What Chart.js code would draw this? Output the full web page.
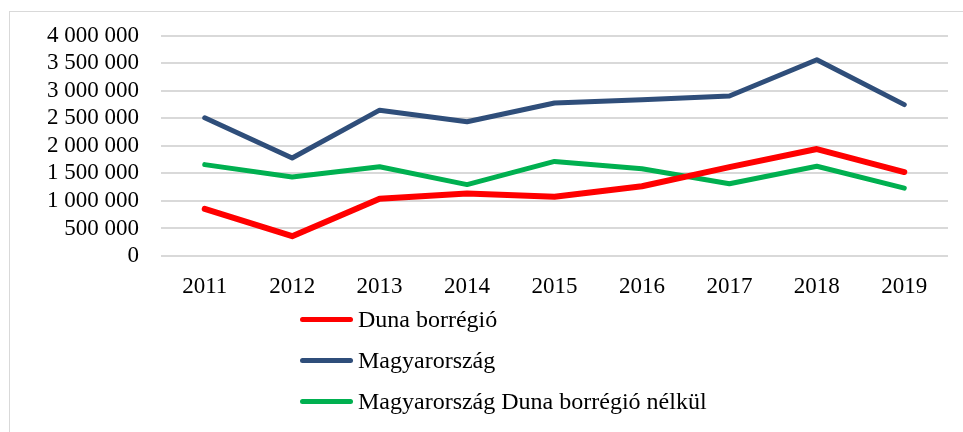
<!DOCTYPE html>
<html>
<head>
<meta charset="utf-8">
<script src="https://cdn.jsdelivr.net/npm/chart.js@4"></script>
<style>
html,body{margin:0;padding:0;background:#fff;width:963px;height:432px;overflow:hidden}
#frame{position:absolute;left:9px;top:11px;width:980px;height:460px;border:1px solid #d9d9d9;box-sizing:border-box}
#wrap{position:absolute;left:0;top:0;width:963px;height:310px}
#legend{position:absolute;left:300px;top:299px;font-family:"Liberation Serif","Times New Roman",serif;font-size:24px;color:#000}
.li{display:flex;align-items:center;height:41px}
.ls{width:53px;height:5px;border-radius:3px;margin-right:5px}
</style>
</head>
<body>
<div id="frame"></div>
<div id="wrap"><canvas id="c"></canvas></div>
<div id="legend"></div>
<script>
/* DATA */
const years=['2011','2012','2013','2014','2015','2016','2017','2018','2019'];
const duna=[855000,359000,1040000,1136000,1076000,1268000,1614000,1943000,1525000];
const magyar=[2511000,1781000,2649000,2439000,2780000,2840000,2906000,3564000,2750000];
const nelkul=[1660000,1435000,1620000,1297000,1718000,1584000,1312000,1630000,1232000];
const names=['Duna borrégió','Magyarország','Magyarország Duna borrégió nélkül'];
const colors=['#ff0000','#2f4e7a','#00b050'];

const fmt=v=>String(v).replace(/\B(?=(\d{3})+(?!\d))/g,' ');
const font={family:'"Liberation Serif","Times New Roman",serif',size:23};

const ch=new Chart(document.getElementById('c'),{
  type:'line',
  data:{labels:years,datasets:[duna,magyar,nelkul].map((d,i)=>({
    label:names[i],data:d,borderColor:colors[i],backgroundColor:colors[i],
    borderWidth:i===0?6:5,pointRadius:0,borderCapStyle:'round',borderJoinStyle:'round',tension:0
  }))},
  options:{
    responsive:true,maintainAspectRatio:false,animation:false,
    layout:{padding:{left:0,right:15,top:31,bottom:0}},
    plugins:{legend:{display:false},tooltip:{enabled:false}},
    scales:{
      x:{offset:true,grid:{display:false},border:{display:false},
        ticks:{color:'#000',font,padding:9,maxRotation:0},
        afterFit:s=>{s.height=54;}},
      y:{min:0,max:4000000,grid:{color:'#d9d9d9',lineWidth:2,drawTicks:false},border:{display:false},
        ticks:{stepSize:500000,autoSkip:false,color:'#000',font,padding:22,callback:v=>fmt(v)},
        afterFit:s=>{s.width=161;}}
    }
  }
});

document.getElementById('legend').innerHTML=ch.data.datasets.map(d=>
  `<div class="li"><span class="ls" style="background:${d.borderColor}"></span>${d.label}</div>`).join('');
</script>
</body>
</html>
